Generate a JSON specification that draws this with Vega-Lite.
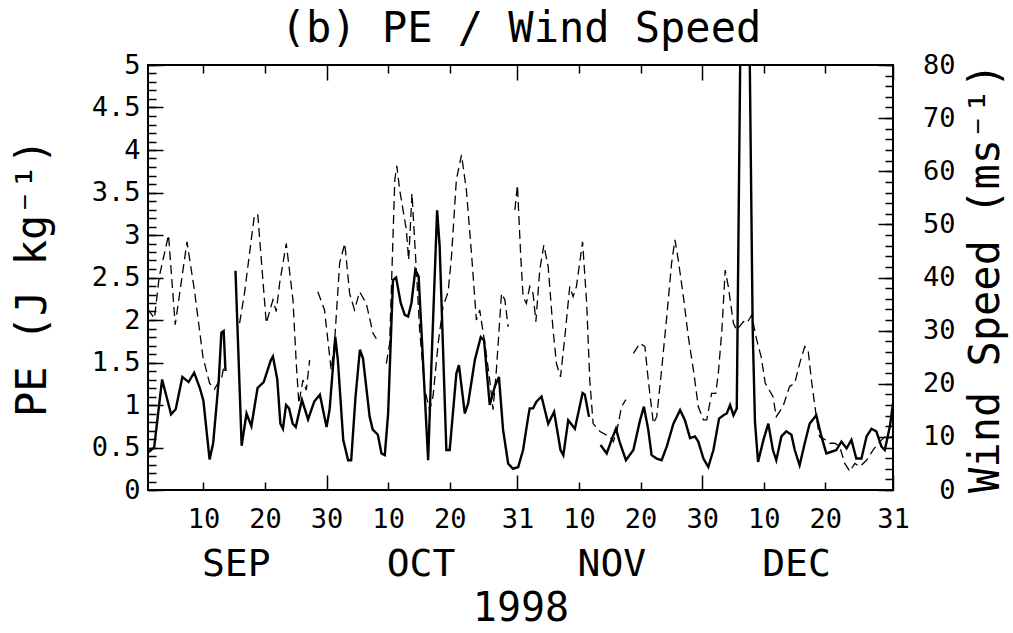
{
  "$schema": "https://vega.github.io/schema/vega-lite/v6.json",
  "width": 745,
  "height": 425,
  "autosize": "none",
  "padding": {"left": 148, "top": 65, "right": 120, "bottom": 143},
  "background": "white",
  "datasets": {
    "pe": [
      {"t":"1998-09-01T00:00","pe":0.44},{"t":"1998-09-02T00:00","pe":0.5},{"t":"1998-09-03T07:00","pe":1.3},{"t":"1998-09-04T18:00","pe":0.89},{"t":"1998-09-05T12:00","pe":0.95},{"t":"1998-09-06T14:00","pe":1.33},{"t":"1998-09-07T14:00","pe":1.27},{"t":"1998-09-08T12:00","pe":1.38},{"t":"1998-09-09T10:00","pe":1.2},{"t":"1998-09-10T00:00","pe":1.05},{"t":"1998-09-11T00:00","pe":0.36},{"t":"1998-09-11T14:00","pe":0.55},{"t":"1998-09-12T12:00","pe":1.3},{"t":"1998-09-12T22:00","pe":1.85},{"t":"1998-09-13T07:00","pe":1.87},{"t":"1998-09-13T14:00","pe":1.4},{"t":"1998-09-14T12:00","pe":null},{"t":"1998-09-15T05:00","pe":2.58},{"t":"1998-09-16T05:00","pe":0.52},{"t":"1998-09-17T00:00","pe":0.9},{"t":"1998-09-17T19:00","pe":0.75},{"t":"1998-09-18T19:00","pe":1.2},{"t":"1998-09-19T19:00","pe":1.27},{"t":"1998-09-20T22:00","pe":1.52},{"t":"1998-09-21T07:00","pe":1.57},{"t":"1998-09-22T00:00","pe":1.3},{"t":"1998-09-22T12:00","pe":0.78},{"t":"1998-09-22T22:00","pe":0.72},{"t":"1998-09-23T10:00","pe":1.0},{"t":"1998-09-23T22:00","pe":0.96},{"t":"1998-09-24T12:00","pe":0.78},{"t":"1998-09-25T00:00","pe":0.74},{"t":"1998-09-26T00:00","pe":1.06},{"t":"1998-09-27T00:00","pe":0.83},{"t":"1998-09-28T00:00","pe":1.04},{"t":"1998-09-28T22:00","pe":1.12},{"t":"1998-09-30T00:00","pe":0.74},{"t":"1998-09-30T12:00","pe":0.95},
      {"t":"1998-10-01T10:00","pe":1.8},{"t":"1998-10-01T20:00","pe":1.53},{"t":"1998-10-02T17:00","pe":0.59},{"t":"1998-10-03T12:00","pe":0.35},{"t":"1998-10-04T00:00","pe":0.35},{"t":"1998-10-04T17:00","pe":1.1},{"t":"1998-10-05T10:00","pe":1.65},{"t":"1998-10-05T22:00","pe":1.55},{"t":"1998-10-07T00:00","pe":0.86},{"t":"1998-10-07T12:00","pe":0.71},{"t":"1998-10-08T08:00","pe":0.65},{"t":"1998-10-08T22:00","pe":0.43},{"t":"1998-10-09T11:00","pe":0.41},{"t":"1998-10-10T00:00","pe":0.9},{"t":"1998-10-10T19:00","pe":2.47},{"t":"1998-10-11T07:00","pe":2.5},{"t":"1998-10-12T01:00","pe":2.2},{"t":"1998-10-12T17:00","pe":2.06},{"t":"1998-10-13T06:00","pe":2.04},{"t":"1998-10-13T19:00","pe":2.2},{"t":"1998-10-14T10:00","pe":2.59},{"t":"1998-10-14T23:00","pe":2.51},{"t":"1998-10-16T12:00","pe":0.35},{"t":"1998-10-17T01:00","pe":1.49},{"t":"1998-10-17T23:00","pe":3.29},{"t":"1998-10-18T09:00","pe":2.86},{"t":"1998-10-19T11:00","pe":0.47},{"t":"1998-10-20T00:00","pe":0.47},{"t":"1998-10-21T02:00","pe":1.37},{"t":"1998-10-21T12:00","pe":1.47},{"t":"1998-10-22T11:00","pe":0.9},{"t":"1998-10-23T00:00","pe":1.02},{"t":"1998-10-24T02:00","pe":1.53},{"t":"1998-10-25T01:00","pe":1.8},{"t":"1998-10-25T14:00","pe":1.76},{"t":"1998-10-26T12:00","pe":1.0},{"t":"1998-10-27T08:00","pe":1.22},{"t":"1998-10-28T00:00","pe":1.33},{"t":"1998-10-28T16:00","pe":0.71},{"t":"1998-10-29T12:00","pe":0.31},{"t":"1998-10-30T07:00","pe":0.25},{"t":"1998-10-31T03:00","pe":0.27},{"t":"1998-10-31T22:00","pe":0.47},
      {"t":"1998-11-01T18:00","pe":0.86},{"t":"1998-11-02T00:00","pe":0.96},{"t":"1998-11-02T13:00","pe":0.96},{"t":"1998-11-03T02:00","pe":1.04},{"t":"1998-11-03T22:00","pe":1.1},{"t":"1998-11-05T00:00","pe":0.78},{"t":"1998-11-05T23:00","pe":0.92},{"t":"1998-11-07T00:00","pe":0.47},{"t":"1998-11-07T11:00","pe":0.41},{"t":"1998-11-08T06:00","pe":0.82},{"t":"1998-11-09T08:00","pe":0.72},{"t":"1998-11-10T14:00","pe":1.14},{"t":"1998-11-10T23:00","pe":1.12},{"t":"1998-11-11T15:00","pe":0.86},{"t":"1998-11-12T12:00","pe":null},{"t":"1998-11-13T12:00","pe":0.53},{"t":"1998-11-14T12:00","pe":0.43},{"t":"1998-11-15T07:00","pe":0.59},{"t":"1998-11-16T00:00","pe":0.72},{"t":"1998-11-16T16:00","pe":0.55},{"t":"1998-11-17T15:00","pe":0.35},{"t":"1998-11-18T20:00","pe":0.47},{"t":"1998-11-19T22:00","pe":0.82},{"t":"1998-11-20T13:00","pe":0.98},{"t":"1998-11-21T06:00","pe":0.71},{"t":"1998-11-21T19:00","pe":0.41},{"t":"1998-11-22T15:00","pe":0.37},{"t":"1998-11-23T10:00","pe":0.35},{"t":"1998-11-24T06:00","pe":0.51},{"t":"1998-11-25T08:00","pe":0.78},{"t":"1998-11-26T10:00","pe":0.94},{"t":"1998-11-27T05:00","pe":0.82},{"t":"1998-11-28T01:00","pe":0.61},{"t":"1998-11-28T20:00","pe":0.63},{"t":"1998-11-29T09:00","pe":0.57},{"t":"1998-11-30T05:00","pe":0.37},
      {"t":"1998-12-01T00:00","pe":0.27},{"t":"1998-12-01T20:00","pe":0.47},{"t":"1998-12-02T18:00","pe":0.84},{"t":"1998-12-03T11:00","pe":0.88},{"t":"1998-12-04T00:00","pe":0.9},{"t":"1998-12-04T13:00","pe":1.0},{"t":"1998-12-05T02:00","pe":0.88},{"t":"1998-12-05T15:00","pe":0.96},{"t":"1998-12-06T14:00","pe":8.0},{"t":"1998-12-07T07:00","pe":8.0},{"t":"1998-12-08T05:00","pe":1.9},{"t":"1998-12-08T14:00","pe":0.8},{"t":"1998-12-09T02:00","pe":0.33},{"t":"1998-12-09T23:00","pe":0.59},{"t":"1998-12-10T18:00","pe":0.78},{"t":"1998-12-11T12:00","pe":0.47},{"t":"1998-12-12T01:00","pe":0.35},{"t":"1998-12-12T21:00","pe":0.63},{"t":"1998-12-13T16:00","pe":0.69},{"t":"1998-12-14T12:00","pe":0.65},{"t":"1998-12-15T01:00","pe":0.47},{"t":"1998-12-15T20:00","pe":0.29},{"t":"1998-12-16T16:00","pe":0.55},{"t":"1998-12-17T11:00","pe":0.78},{"t":"1998-12-18T13:00","pe":0.88},{"t":"1998-12-19T09:00","pe":0.63},{"t":"1998-12-20T04:00","pe":0.43},{"t":"1998-12-21T00:00","pe":0.45},{"t":"1998-12-21T19:00","pe":0.47},{"t":"1998-12-22T15:00","pe":0.57},{"t":"1998-12-23T11:00","pe":0.49},{"t":"1998-12-24T06:00","pe":0.59},{"t":"1998-12-25T01:00","pe":0.37},{"t":"1998-12-25T21:00","pe":0.37},{"t":"1998-12-26T17:00","pe":0.63},{"t":"1998-12-27T12:00","pe":0.72},{"t":"1998-12-28T07:00","pe":0.69},{"t":"1998-12-29T03:00","pe":0.51},{"t":"1998-12-29T16:00","pe":0.47},{"t":"1998-12-30T12:00","pe":0.75},{"t":"1998-12-31T00:00","pe":1.02}
    ],
    "wind": [
      {"t":"1998-09-01T00:00","ws":34},{"t":"1998-09-02T01:00","ws":32.3},{"t":"1998-09-02T20:00","ws":40.2},{"t":"1998-09-04T08:00","ws":48},{"t":"1998-09-05T10:00","ws":31.1},{"t":"1998-09-06T09:00","ws":38.9},{"t":"1998-09-07T08:00","ws":46.7},{"t":"1998-09-08T13:00","ws":37.6},{"t":"1998-09-09T22:00","ws":25.1},{"t":"1998-09-11T00:00","ws":20.1},{"t":"1998-09-11T19:00","ws":19},{"t":"1998-09-13T00:00","ws":21.3},{"t":"1998-09-13T10:00","ws":23.8},{"t":"1998-09-14T12:00","ws":null},{"t":"1998-09-15T21:00","ws":31.4},{"t":"1998-09-16T16:00","ws":37},{"t":"1998-09-18T07:00","ws":51.8},{"t":"1998-09-18T20:00","ws":51.8},{"t":"1998-09-20T05:00","ws":31.4},{"t":"1998-09-21T07:00","ws":35.8},{"t":"1998-09-21T20:00","ws":33.6},{"t":"1998-09-22T09:00","ws":38.9},{"t":"1998-09-23T11:00","ws":46.4},{"t":"1998-09-24T13:00","ws":35.8},{"t":"1998-09-25T02:00","ws":23.8},{"t":"1998-09-25T12:00","ws":16.3},{"t":"1998-09-26T04:00","ws":20.7},{"t":"1998-09-26T17:00","ws":18.8},{"t":"1998-09-27T06:00","ws":24.5},{"t":"1998-09-27T22:00","ws":null},{"t":"1998-09-28T14:00","ws":37.3},{"t":"1998-09-29T16:00","ws":33.9},{"t":"1998-09-30T18:00","ws":22.6},
      {"t":"1998-10-01T07:00","ws":27.6},{"t":"1998-10-02T03:00","ws":42.7},{"t":"1998-10-02T23:00","ws":46.4},{"t":"1998-10-03T18:00","ws":37},{"t":"1998-10-04T13:00","ws":33.9},{"t":"1998-10-05T09:00","ws":37.3},{"t":"1998-10-06T11:00","ws":35.1},{"t":"1998-10-07T13:00","ws":29.5},{"t":"1998-10-08T02:00","ws":28.5},{"t":"1998-10-08T22:00","ws":null},{"t":"1998-10-09T17:00","ws":23.8},{"t":"1998-10-10T06:00","ws":27.6},{"t":"1998-10-11T02:00","ws":58.4},{"t":"1998-10-11T10:00","ws":61},{"t":"1998-10-11T21:00","ws":56.5},{"t":"1998-10-12T23:00","ws":49},{"t":"1998-10-13T08:00","ws":43.3},{"t":"1998-10-13T21:00","ws":55.8},{"t":"1998-10-14T14:00","ws":41.4},{"t":"1998-10-15T03:00","ws":30.1},{"t":"1998-10-15T23:00","ws":18.8},{"t":"1998-10-16T18:00","ws":15.1},{"t":"1998-10-17T07:00","ws":17.6},{"t":"1998-10-18T03:00","ws":27.6},{"t":"1998-10-18T22:00","ws":34.5},{"t":"1998-10-19T18:00","ws":37.3},{"t":"1998-10-20T07:00","ws":43.9},{"t":"1998-10-21T02:00","ws":58.4},{"t":"1998-10-21T22:00","ws":63.1},{"t":"1998-10-22T17:00","ws":56.5},{"t":"1998-10-23T13:00","ws":44.5},{"t":"1998-10-24T08:00","ws":32},{"t":"1998-10-24T21:00","ws":33.9},{"t":"1998-10-25T17:00","ws":27.6},{"t":"1998-10-26T12:00","ws":20.7},{"t":"1998-10-27T01:00","ws":15.1},{"t":"1998-10-27T14:00","ws":22.6},{"t":"1998-10-28T10:00","ws":37},{"t":"1998-10-28T23:00","ws":35.8},{"t":"1998-10-29T12:00","ws":30.7},{"t":"1998-10-30T00:00","ws":null},{"t":"1998-10-30T14:00","ws":52.7},{"t":"1998-10-31T00:00","ws":57.4},{"t":"1998-10-31T13:00","ws":43.9},{"t":"1998-10-31T22:00","ws":36.4},
      {"t":"1998-11-01T11:00","ws":35.1},{"t":"1998-11-02T00:00","ws":38.3},{"t":"1998-11-02T13:00","ws":37},{"t":"1998-11-03T00:00","ws":31.7},{"t":"1998-11-03T15:00","ws":41.4},{"t":"1998-11-04T07:00","ws":46.1},{"t":"1998-11-05T00:00","ws":42},{"t":"1998-11-05T19:00","ws":30.1},{"t":"1998-11-06T08:00","ws":23.8},{"t":"1998-11-07T00:00","ws":21.3},{"t":"1998-11-07T17:00","ws":28.9},{"t":"1998-11-08T12:00","ws":38.3},{"t":"1998-11-09T01:00","ws":36.4},{"t":"1998-11-09T14:00","ws":38.3},{"t":"1998-11-10T14:00","ws":46.7},{"t":"1998-11-11T06:00","ws":35.1},{"t":"1998-11-11T18:00","ws":20.7},{"t":"1998-11-12T07:00","ws":12.5},{"t":"1998-11-13T10:00","ws":11},{"t":"1998-11-15T00:00","ws":10},{"t":"1998-11-15T14:00","ws":9.1},{"t":"1998-11-16T03:00","ws":11},{"t":"1998-11-16T22:00","ws":15.7},{"t":"1998-11-17T15:00","ws":17},{"t":"1998-11-18T05:00","ws":null},{"t":"1998-11-18T20:00","ws":25.7},{"t":"1998-11-19T22:00","ws":27.6},{"t":"1998-11-20T17:00","ws":27},{"t":"1998-11-21T06:00","ws":20.7},{"t":"1998-11-22T02:00","ws":12.5},{"t":"1998-11-22T15:00","ws":13.8},{"t":"1998-11-23T10:00","ws":22.6},{"t":"1998-11-24T06:00","ws":32.6},{"t":"1998-11-25T01:00","ws":42.7},{"t":"1998-11-25T14:00","ws":47.1},{"t":"1998-11-26T03:00","ws":43.3},{"t":"1998-11-26T23:00","ws":36.4},{"t":"1998-11-27T18:00","ws":28.9},{"t":"1998-11-28T14:00","ws":22.6},{"t":"1998-11-29T09:00","ws":15.7},{"t":"1998-11-30T05:00","ws":13.2},{"t":"1998-11-30T18:00","ws":13.2},
      {"t":"1998-12-01T13:00","ws":18.2},{"t":"1998-12-02T05:00","ws":18.2},{"t":"1998-12-02T15:00","ws":21.9},{"t":"1998-12-03T05:00","ws":30.1},{"t":"1998-12-03T18:00","ws":41.4},{"t":"1998-12-04T06:00","ws":38.3},{"t":"1998-12-05T02:00","ws":31.4},{"t":"1998-12-05T15:00","ws":30.1},{"t":"1998-12-06T17:00","ws":31.7},{"t":"1998-12-07T06:00","ws":31.4},{"t":"1998-12-08T01:00","ws":32.9},{"t":"1998-12-08T21:00","ws":28.2},{"t":"1998-12-09T14:00","ws":25.1},{"t":"1998-12-10T06:00","ws":20.1},{"t":"1998-12-11T12:00","ws":17.6},{"t":"1998-12-12T01:00","ws":13.8},{"t":"1998-12-13T03:00","ws":15.7},{"t":"1998-12-14T05:00","ws":19.5},{"t":"1998-12-15T01:00","ws":20.1},{"t":"1998-12-15T20:00","ws":23.8},{"t":"1998-12-16T16:00","ws":27},{"t":"1998-12-17T05:00","ws":26.4},{"t":"1998-12-17T18:00","ws":20.7},{"t":"1998-12-18T13:00","ws":13.8},{"t":"1998-12-19T02:00","ws":10},{"t":"1998-12-20T04:00","ws":9.4},{"t":"1998-12-20T18:00","ws":8.8},{"t":"1998-12-21T13:00","ws":8.8},{"t":"1998-12-22T08:00","ws":8.2},{"t":"1998-12-23T04:00","ws":5},{"t":"1998-12-24T00:00","ws":3.5},{"t":"1998-12-24T19:00","ws":5},{"t":"1998-12-25T14:00","ws":4.4},{"t":"1998-12-26T17:00","ws":5.6},{"t":"1998-12-27T18:00","ws":7.5},{"t":"1998-12-28T21:00","ws":9.1},{"t":"1998-12-29T16:00","ws":10},{"t":"1998-12-31T00:00","ws":10}
    ]
  },
  "config": {
    "view": {"stroke": "black", "strokeWidth": 2},
    "font": "DejaVu Sans Mono",
    "axis": {"domain": false, "grid": false, "labelFont": "DejaVu Sans Mono", "titleFont": "DejaVu Sans Mono", "labelColor": "black", "titleColor": "black", "tickColor": "black", "tickWidth": 1.5, "titleFontWeight": "normal", "labelFontSize": 27, "titleFontSize": 42, "labelOverlap": false, "labelFlush": false}
  },
  "resolve": {"scale": {"x": "independent", "y": "independent"}, "axis": {"x": "independent", "y": "independent"}},
  "layer": [
    {
      "data": {"name": "pe"},
      "mark": {"type": "line", "color": "black", "strokeWidth": 2.4, "clip": true, "invalid": "break-paths-show-domains"},
      "encoding": {
        "x": {"field": "t", "type": "temporal", "scale": {"type": "time", "domain": [{"year":1998,"month":9,"date":1},{"year":1998,"month":12,"date":31}], "nice": false},
          "axis": {"orient": "bottom", "title": null, "ticks": false, "labelPadding": 37, "labelBaseline": "alphabetic", "labelExpr": "timeFormat(datum.value, '%-d')",
            "values": [{"year":1998,"month":9,"date":10},{"year":1998,"month":9,"date":20},{"year":1998,"month":9,"date":30},{"year":1998,"month":10,"date":10},{"year":1998,"month":10,"date":20},{"year":1998,"month":10,"date":31},{"year":1998,"month":11,"date":10},{"year":1998,"month":11,"date":20},{"year":1998,"month":11,"date":30},{"year":1998,"month":12,"date":10},{"year":1998,"month":12,"date":20},{"year":1998,"month":12,"date":31}]}},
        "y": {"field": "pe", "type": "quantitative", "scale": {"domain": [0, 5], "nice": false, "zero": false},
          "axis": {"orient": "left", "ticks": false, "labelPadding": 8, "labelAlign": "right", "labelBaseline": "middle", "format": "~g", "values": [0,0.5,1,1.5,2,2.5,3,3.5,4,4.5,5],
            "title": "PE (J kg⁻¹)", "titleAngle": -90, "titleX": -116, "titleY": 212.5, "titleAlign": "center", "titleBaseline": "middle"}}
      }
    },
    {
      "data": {"name": "wind"},
      "mark": {"type": "line", "color": "black", "strokeWidth": 1.3, "strokeDash": [9, 5], "clip": true, "invalid": "break-paths-show-domains"},
      "encoding": {
        "x": {"field": "t", "type": "temporal", "scale": {"type": "time", "domain": [{"year":1998,"month":9,"date":1},{"year":1998,"month":12,"date":31}], "nice": false},
          "axis": {"orient": "top", "labels": false, "tickSize": -8,
            "title": "(b) PE / Wind Speed", "titleFontSize": 42, "titleX": 372.5, "titleY": -24, "titleAlign": "center", "titleBaseline": "alphabetic",
            "values": [{"year":1998,"month":9,"date":10},{"year":1998,"month":9,"date":20},{"year":1998,"month":10,"date":10},{"year":1998,"month":10,"date":20},{"year":1998,"month":11,"date":10},{"year":1998,"month":11,"date":20},{"year":1998,"month":12,"date":10},{"year":1998,"month":12,"date":20}]}},
        "y": {"field": "ws", "type": "quantitative", "scale": {"domain": [0, 80], "nice": false, "zero": false},
          "axis": {"orient": "right", "ticks": false, "labelPadding": 62, "labelAlign": "right", "labelBaseline": "middle", "values": [0,10,20,30,40,50,60,70,80],
            "title": "Wind Speed (ms⁻¹)", "titleAngle": -90, "titleX": 92, "titleY": 212.5, "titleAlign": "center", "titleBaseline": "middle"}}
      }
    },
    {
      "data": {"name": "pe"},
      "mark": {"type": "line", "opacity": 0, "clip": true},
      "encoding": {
        "x": {"field": "t", "type": "temporal", "scale": {"type": "time", "domain": [{"year":1998,"month":9,"date":1},{"year":1998,"month":12,"date":31}], "nice": false},
          "axis": {"orient": "bottom", "title": null, "labels": false, "tickSize": -8,
            "values": [{"year":1998,"month":9,"date":10},{"year":1998,"month":9,"date":20},{"year":1998,"month":10,"date":10},{"year":1998,"month":10,"date":20},{"year":1998,"month":11,"date":10},{"year":1998,"month":11,"date":20},{"year":1998,"month":12,"date":10},{"year":1998,"month":12,"date":20}]}},
        "y": {"field": "pe", "type": "quantitative", "scale": {"domain": [0, 5], "nice": false, "zero": false},
          "axis": {"orient": "left", "title": null, "labels": false, "tickSize": -8, "values": [0,0.1,0.2,0.3,0.4,0.5,0.6,0.7,0.8,0.9,1,1.1,1.2,1.3,1.4,1.5,1.6,1.7,1.8,1.9,2,2.1,2.2,2.3,2.4,2.5,2.6,2.7,2.8,2.9,3,3.1,3.2,3.3,3.4,3.5,3.6,3.7,3.8,3.9,4,4.1,4.2,4.3,4.4,4.5,4.6,4.7,4.8,4.9,5]}}
      }
    },
    {
      "data": {"name": "wind"},
      "mark": {"type": "line", "opacity": 0, "clip": true},
      "encoding": {
        "x": {"field": "t", "type": "temporal", "scale": {"type": "time", "domain": [{"year":1998,"month":9,"date":1},{"year":1998,"month":12,"date":31}], "nice": false},
          "axis": {"orient": "bottom", "title": null, "labels": false, "tickSize": -15,
            "values": [{"year":1998,"month":9,"date":30},{"year":1998,"month":10,"date":31},{"year":1998,"month":11,"date":30},{"year":1998,"month":12,"date":31}]}},
        "y": {"field": "ws", "type": "quantitative", "scale": {"domain": [0, 80], "nice": false, "zero": false},
          "axis": {"orient": "right", "title": null, "labels": false, "tickSize": -8, "values": [0,2,4,6,8,10,12,14,16,18,20,22,24,26,28,30,32,34,36,38,40,42,44,46,48,50,52,54,56,58,60,62,64,66,68,70,72,74,76,78,80]}}
      }
    },
    {
      "data": {"name": "pe"},
      "mark": {"type": "line", "opacity": 0, "clip": true},
      "encoding": {
        "x": {"field": "t", "type": "temporal", "scale": {"type": "time", "domain": [{"year":1998,"month":9,"date":1},{"year":1998,"month":12,"date":31}], "nice": false},
          "axis": {"orient": "top", "title": null, "labels": false, "tickSize": -15,
            "values": [{"year":1998,"month":9,"date":30},{"year":1998,"month":10,"date":31},{"year":1998,"month":11,"date":30},{"year":1998,"month":12,"date":31}]}},
        "y": {"field": "pe", "type": "quantitative", "scale": {"domain": [0, 5], "nice": false, "zero": false},
          "axis": {"orient": "left", "title": null, "labels": false, "tickSize": -15, "values": [0,0.5,1,1.5,2,2.5,3,3.5,4,4.5,5]}}
      }
    },
    {
      "data": {"name": "wind"},
      "mark": {"type": "line", "opacity": 0, "clip": true},
      "encoding": {
        "x": {"field": "t", "type": "temporal", "scale": {"type": "time", "domain": [{"year":1998,"month":9,"date":1},{"year":1998,"month":12,"date":31}], "nice": false},
          "axis": {"orient": "bottom", "ticks": false, "labelPadding": 85, "labelBaseline": "alphabetic", "labelFontSize": 38, "labelExpr": "upper(timeFormat(datum.value, '%b'))",
            "values": [{"year":1998,"month":9,"date":15,"hours":6},{"year":1998,"month":10,"date":15,"hours":6},{"year":1998,"month":11,"date":15,"hours":6},{"year":1998,"month":12,"date":15,"hours":6}],
            "title": "1998", "titleFontSize": 40, "titleX": 372.5, "titleY": 130, "titleAlign": "center", "titleBaseline": "alphabetic"}},
        "y": {"field": "ws", "type": "quantitative", "scale": {"domain": [0, 80], "nice": false, "zero": false},
          "axis": {"orient": "right", "title": null, "labels": false, "tickSize": -15, "values": [0,10,20,30,40,50,60,70,80]}}
      }
    }
  ]
}
